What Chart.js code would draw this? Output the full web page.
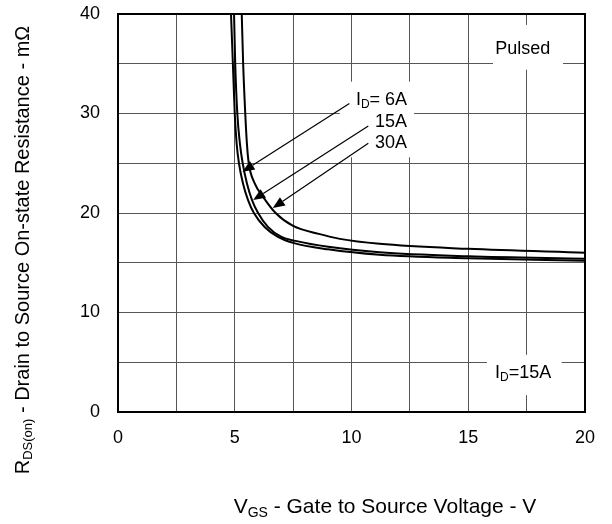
<!DOCTYPE html>
<html>
<head>
<meta charset="utf-8">
<script src="https://cdn.jsdelivr.net/npm/chart.js@4.4.0/dist/chart.umd.min.js"></script>
<style>
  html, body { margin: 0; padding: 0; background: #fff; }
  #wrap { width: 612px; height: 524px; position: relative; }
</style>
</head>
<body>
<div id="wrap"><canvas id="rdsChart"></canvas></div>
<script>
// values (VGS in V, RDS(on) in mOhm)
const vgs6A  = [4.84, 4.92, 5.00, 5.08, 5.18, 5.35, 5.57, 5.82, 6.28, 6.85, 7.5, 9.0, 11.2, 15.0, 20.0];
const rds6A  = [40,   35,   30,   27,   25,   23,   21.3, 20,   18.6, 17.6, 17.0, 16.35, 15.8, 15.45, 15.2];
const vgs15A = [4.97, 5.02, 5.11, 5.22, 5.34, 5.52, 5.74, 6.00, 6.42, 7.0, 7.6, 9.0, 11.2, 15.0, 20.0];
const rds15A = [40,   35,   30,   27,   25,   23,   21.3, 20,   18.6, 17.6, 17.2, 16.6, 16.05, 15.65, 15.4];
const vgs30A = [5.30, 5.36, 5.45, 5.52, 5.60, 5.85, 6.25, 6.75, 7.5, 8.6, 9.5, 11.2, 15.0, 20.0];
const rds30A = [40,   35,   30,   27,   25,   23,   21.5, 20.0, 18.7, 17.9, 17.4, 16.9, 16.4, 16.0];

const xTickLabels = [0, 5, 10, 15, 20];
const yTickLabels = [0, 10, 20, 30, 40];

const FONT = "'Liberation Sans', Arial, sans-serif";

function pts(xs, ys) {
    return xs.map((x, i) => ({ x: x, y: ys[i] }));
}

// annotations, in data units
const boxes = [
    { x0: 16.06, x1: 19.06, y0: 34.4, y1: 38.9 },
    { x0: 15.8, x1: 19.0, y0: 1.7, y1: 5.75 },
    { x0: 9.5, x1: 12.68, y0: 25.6, y1: 33.2 }
];
const arrows = [
    { fx: 9.91, fy: 31.0, tx: 5.33, ty: 24.15 },
    { fx: 10.72, fy: 28.74, tx: 5.79, ty: 21.3 },
    { fx: 10.72, fy: 27.0, tx: 6.63, ty: 20.5 }
];
const notes = [
    { x: 17.33, y: 36.5, align: 'center', parts: [{ t: 'Pulsed' }] },
    { x: 16.15, y: 3.92, align: 'left', parts: [{ t: 'I' }, { t: 'D', sub: true }, { t: '=15A' }] },
    { x: 12.38, y: 31.35, align: 'right', parts: [{ t: 'I' }, { t: 'D', sub: true }, { t: '= 6A' }] },
    { x: 12.38, y: 29.17, align: 'right', parts: [{ t: '15A' }] },
    { x: 12.38, y: 27.0, align: 'right', parts: [{ t: '30A' }] }
];

function drawRich(ctx, parts, x, y, align, size) {
    size = size || 18;
    const subSize = Math.round(size * 0.66);
    const fontOf = p => (p.sub ? subSize : size) + 'px ' + FONT;
    let w = 0;
    parts.forEach(p => { ctx.font = fontOf(p); w += ctx.measureText(p.t).width; });
    let cx = x;
    if (align === 'center') cx = x - w / 2;
    if (align === 'right') cx = x - w;
    ctx.textBaseline = 'middle';
    ctx.textAlign = 'left';
    ctx.fillStyle = '#000';
    parts.forEach(p => {
        ctx.font = fontOf(p);
        ctx.fillText(p.t, cx, p.sub ? y + size * 0.28 : y);
        cx += ctx.measureText(p.t).width;
    });
}

const decor = {
    id: 'decor',
    beforeDatasetsDraw(chart) {
        const ctx = chart.ctx;
        const xs = chart.scales.x, ys = chart.scales.y;
        ctx.save();
        ctx.fillStyle = '#fff';
        boxes.forEach(b => {
            const l = xs.getPixelForValue(b.x0), r = xs.getPixelForValue(b.x1);
            const t = ys.getPixelForValue(b.y1), btm = ys.getPixelForValue(b.y0);
            ctx.fillRect(l, t, r - l, btm - t);
        });
        ctx.restore();
    },
    afterDatasetsDraw(chart) {
        const ctx = chart.ctx;
        const xs = chart.scales.x, ys = chart.scales.y;
        const a = chart.chartArea;
        ctx.save();

        // arrows
        ctx.strokeStyle = '#000';
        ctx.fillStyle = '#000';
        ctx.lineWidth = 1.2;
        arrows.forEach(ar => {
            const fx = xs.getPixelForValue(ar.fx), fy = ys.getPixelForValue(ar.fy);
            const tx = xs.getPixelForValue(ar.tx), ty = ys.getPixelForValue(ar.ty);
            const ang = Math.atan2(ty - fy, tx - fx);
            const len = 12, half = 5;
            const bx = tx - len * Math.cos(ang), by = ty - len * Math.sin(ang);
            ctx.beginPath();
            ctx.moveTo(fx, fy);
            ctx.lineTo(bx, by);
            ctx.stroke();
            ctx.beginPath();
            ctx.moveTo(tx, ty);
            ctx.lineTo(bx + half * Math.sin(ang), by - half * Math.cos(ang));
            ctx.lineTo(bx - half * Math.sin(ang), by + half * Math.cos(ang));
            ctx.closePath();
            ctx.fill();
        });

        notes.forEach(n => {
            drawRich(ctx, n.parts, xs.getPixelForValue(n.x), ys.getPixelForValue(n.y), n.align);
        });

        // frame
        ctx.lineWidth = 2;
        ctx.strokeStyle = '#000';
        ctx.strokeRect(a.left, a.top, a.right - a.left, a.bottom - a.top);

        // axis titles
        drawRich(ctx, [{ t: 'V' }, { t: 'GS', sub: true }, { t: ' - Gate to Source Voltage - V' }], 385, 507, 'center', 21);
        ctx.translate(23, 250);
        ctx.rotate(-Math.PI / 2);
        drawRich(ctx, [{ t: 'R' }, { t: 'DS(on)', sub: true }, { t: ' - Drain to Source On-state Resistance - m\u03A9' }], 0, 0, 'center', 20);
        ctx.restore();
    }
};

const line = (xs, ys) => ({
    data: pts(xs, ys),
    borderColor: '#000',
    borderWidth: 2,
    pointRadius: 0,
    fill: false,
    cubicInterpolationMode: 'monotone'
});

new Chart(document.getElementById('rdsChart'), {
    type: 'line',
    data: {
        datasets: [
            line(vgs6A, rds6A),
            line(vgs15A, rds15A),
            line(vgs30A, rds30A)
        ]
    },
    options: {
        responsive: true,
        maintainAspectRatio: false,
        animation: false,
        layout: { padding: { top: 14, right: 27, left: 0, bottom: 0 } },
        plugins: { legend: { display: false }, tooltip: { enabled: false } },
        scales: {
            x: {
                type: 'linear',
                min: 0, max: 20,
                afterFit: s => { s.height = 112; s.paddingLeft = 0; s.paddingRight = 0; },
                grid: { color: '#555', lineWidth: 1, drawTicks: false },
                border: { display: false },
                ticks: {
                    stepSize: 2.5, autoSkip: false, maxRotation: 0, padding: 15,
                    color: '#000', font: { family: FONT, size: 18 },
                    callback: v => xTickLabels.includes(v) ? v : ''
                }
            },
            y: {
                min: 0, max: 40,
                afterFit: s => { s.width = 118; s.paddingTop = 0; s.paddingBottom = 0; },
                grid: { color: '#555', lineWidth: 1, drawTicks: false },
                border: { display: false },
                ticks: {
                    stepSize: 5, autoSkip: false, padding: 18,
                    color: '#000', font: { family: FONT, size: 18 },
                    callback: v => yTickLabels.includes(v) ? v : ''
                }
            }
        }
    },
    plugins: [decor]
});
</script>
</body>
</html>
